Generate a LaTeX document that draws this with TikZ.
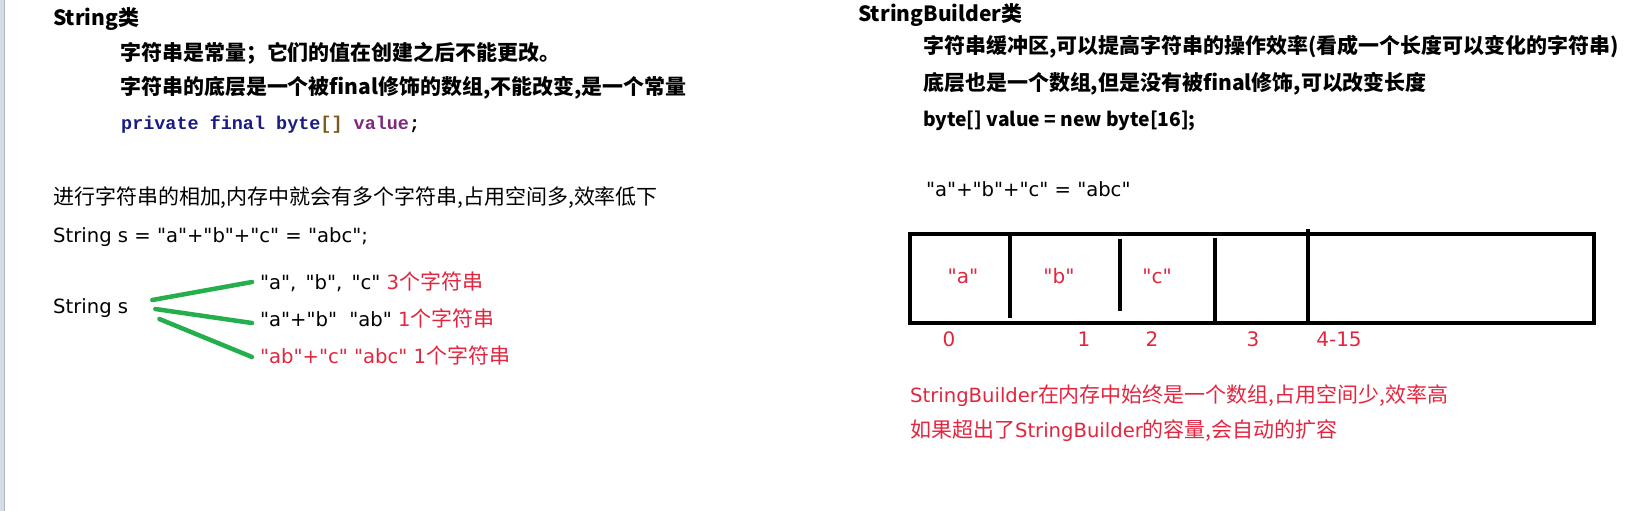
\documentclass[tikz,border=0pt]{standalone}
\usepackage{fontspec}
\usepackage{xcolor}
\usepackage{tikz}
\usetikzlibrary{positioning}
\setmainfont{DejaVu Sans}[Ligatures=TeXOff]
\newfontfamily\zhfont{Noto Sans CJK SC}[Scale=1.07]
\newfontfamily\codefont{Liberation Mono}
\newcommand\zh[1]{{\zhfont #1}}
\definecolor{NoteRed}{HTML}{E3263F}
\definecolor{BranchGreen}{HTML}{24AE4C}
\definecolor{CodeKey}{HTML}{1B1B84}
\definecolor{CodeBracket}{HTML}{7A5C1E}
\definecolor{CodeVar}{HTML}{7D2A7D}
\definecolor{EdgeFill}{HTML}{D6DCE5}
\definecolor{EdgeLine}{HTML}{B0B8C4}
\tikzset{
  diagram/.style={x=1pt,y=-1pt},
  txt/.style={anchor=base west,inner sep=0pt,font=\fontsize{19.6}{24}\selectfont},
  heading/.style={txt,font=\fontsize{19.6}{24}\selectfont\zhfont\bfseries},
  codeline/.style={txt,font=\fontsize{18.45}{22}\selectfont\codefont\bfseries},
  remark/.style={txt,text=NoteRed},
  cellval/.style={anchor=base,inner sep=0pt,text=NoteRed,font=\fontsize{20}{24}\selectfont},
  branch/.style={draw=BranchGreen,line width=4.5pt,line cap=round},
  cellbox/.style={draw=black,line width=3.3pt},
}
\begin{document}
\begin{tikzpicture}[diagram]
  \useasboundingbox (0,0) rectangle (1628,511);
  \fill[white] (0,0) rectangle (1628,511);
  \fill[EdgeFill] (0,0) rectangle (4,511);
  \draw[EdgeLine,line width=1pt] (4.5,0) -- (4.5,511);

  % String
  \node[heading] (strtitle) at (53,26) {String类};
  \node[heading] (strfix) at (120,60) {字符串是常量；它们的值在创建之后不能更改。};
  \node[heading] (strarr) at (120,94) {字符串的底层是一个被final修饰的数组,不能改变,是一个常量};
  \node[codeline] (strcode) at (121,129)
    {\textcolor{CodeKey}{private final byte}\textcolor{CodeBracket}{[]} \textcolor{CodeVar}{value};};
  \node[txt] (stradd) at (53,204) {\zh{进行字符串的相加,内存中就会有多个字符串,占用空间多,效率低下}};
  \node[txt] (streq) at (53,242) {String s = "a"+"b"+"c" = "abc";};

  \node[txt] (strs) at (53,313) {String s};
  \node[txt] (opt1) at (260,289) {"a",\hspace{3pt} "b",\hspace{3pt} "c" \textcolor{NoteRed}{3\zh{个字符串}}};
  \node[txt] (opt2) at (260,326) {"a"+"b"\hspace{6pt} "ab" \textcolor{NoteRed}{1\zh{个字符串}}};
  \node[remark] (opt3) at (260,363) {"ab"+"c" "abc" 1\zh{个字符串}};
  \draw[branch] ([xshift=24pt,yshift=13pt]strs.base east) -- ([xshift=-8pt,yshift=7pt]opt1.base west);
  \draw[branch] ([xshift=27pt,yshift=4pt]strs.base east) -- ([xshift=-8pt,yshift=3pt]opt2.base west);
  \draw[branch] ([xshift=31pt,yshift=-6pt]strs.base east) -- ([xshift=-8pt,yshift=6pt]opt3.base west);

  % StringBuilder
  \node[heading] (sbtitle) at (858,22) {StringBuilder类};
  \node[heading] (sbbuf) at (923,54) {字符串缓冲区,可以提高字符串的操作效率(看成一个长度可以变化的字符串)};
  \node[heading] (sbarr) at (923,91) {底层也是一个数组,但是没有被final修饰,可以改变长度};
  \node[heading,font=\fontsize{18}{24}\selectfont\zhfont\bfseries] (sbcode) at (923,126) {byte[] value = new byte[16];};
  \node[txt] (sbeq) at (926,196) {"a"+"b"+"c" = "abc"};

  \draw[cellbox] (910,234) rectangle (1594,323);
  \draw[cellbox] (1010,234) -- (1010,318);
  \draw[cellbox] (1120,239) -- (1120,311);
  \draw[cellbox] (1215,238) -- (1215,323);
  \draw[cellbox] (1308,229) -- (1308,323);
  \foreach \val/\cx [count=\i] in {a/963,b/1059,c/1157}
    \node[cellval] (cell\i) at (\cx,283) {"\val"};
  \foreach \idx/\ix [count=\i] in {0/949,1/1084,2/1152,3/1253,4-15/1339}
    \node[cellval] (idx\i) at (\ix,346) {\idx};

  \node[remark] (sbmem) at (910,402) {StringBuilder\zh{在内存中始终是一个数组,占用空间少,效率高}};
  \node[remark] (sbgrow) at (910,437) {\zh{如果超出了}StringBuilder\zh{的容量,会自动的扩容}};
\end{tikzpicture}
\end{document}
